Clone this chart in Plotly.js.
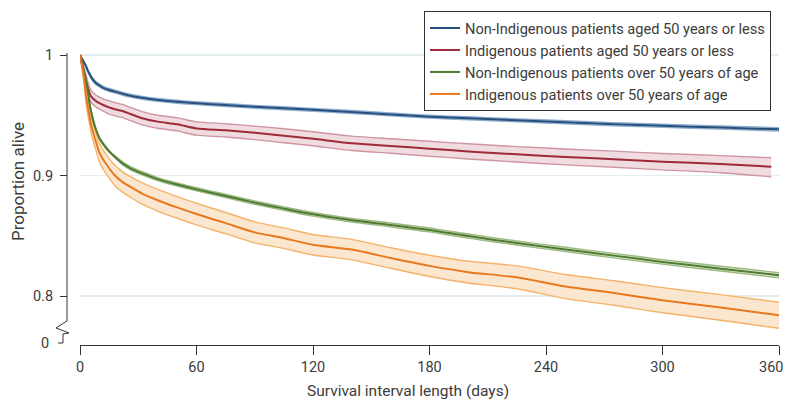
<!DOCTYPE html>
<html>
<head>
<meta charset="utf-8">
<script src="https://cdn.plot.ly/plotly-3.0.1.min.js"></script>
<style>html,body{margin:0;padding:0;background:#fff;}#chart{width:787px;height:402px;}</style>
</head>
<body>
<div id="chart"></div>
<script>
// ---- data ----
const days = [0,1,2,3,4,5,6,8,10,12,15,18,22,26,32,40,50,60,75,90,105,120,140,160,180,200,225,250,275,300,330,360];
const daysRed = [0,1,2,3,4,5,6,8,10,12,15,18,22,26,32,40,50,60,75,90,105,120,140,160,180,200,225,250,275,300,330,356];

const blue = [1.0,0.997,0.994,0.991,0.987,0.984,0.981,0.977,0.9747,0.9728,0.971,0.9696,0.9678,0.9662,0.9645,0.9627,0.9612,0.960,0.9585,0.957,0.9558,0.9545,0.9527,0.9507,0.9488,0.9475,0.9458,0.9442,0.9425,0.9412,0.9398,0.9383];
const blueUp = [1.0,0.9975,0.9948,0.992,0.9881,0.9852,0.9822,0.9782,0.9759,0.974,0.9722,0.9708,0.969,0.9674,0.9657,0.9639,0.9624,0.9612,0.9597,0.9582,0.957,0.9557,0.9539,0.9519,0.95,0.9487,0.947,0.9455,0.9438,0.9425,0.9411,0.9397];
const blueLo = [1.0,0.9965,0.9932,0.990,0.9859,0.9828,0.9798,0.9758,0.9735,0.9716,0.9698,0.9684,0.9666,0.965,0.9633,0.9615,0.96,0.9588,0.9573,0.9558,0.9546,0.9533,0.9515,0.9495,0.9476,0.9463,0.9446,0.9429,0.9412,0.9399,0.9385,0.9369];

const red = [1.0,0.993,0.986,0.979,0.973,0.968,0.965,0.962,0.960,0.9585,0.9565,0.955,0.9535,0.951,0.9475,0.9447,0.9425,0.939,0.9375,0.9355,0.933,0.9305,0.9267,0.9245,0.9222,0.920,0.9176,0.9154,0.9135,0.9115,0.9095,0.9073];
const redUp = [1.0,0.996,0.990,0.984,0.978,0.973,0.970,0.967,0.965,0.9635,0.962,0.9605,0.959,0.9565,0.953,0.950,0.948,0.9445,0.943,0.941,0.9388,0.9363,0.9327,0.9305,0.9284,0.9263,0.924,0.922,0.9202,0.9183,0.9165,0.9147];
const redLo = [1.0,0.990,0.982,0.974,0.968,0.963,0.960,0.957,0.955,0.9535,0.951,0.9495,0.948,0.9455,0.942,0.9392,0.937,0.9335,0.932,0.9298,0.9272,0.9247,0.9207,0.9185,0.916,0.9137,0.9112,0.9088,0.9068,0.9047,0.9023,0.899];

const green = [1.0,0.994,0.987,0.980,0.970,0.959,0.951,0.939,0.931,0.926,0.920,0.9155,0.910,0.906,0.9018,0.897,0.8925,0.8885,0.883,0.8775,0.8725,0.8678,0.8628,0.859,0.8548,0.8497,0.844,0.8386,0.8335,0.8283,0.8227,0.8172];
const greenUp = [1.0,0.9945,0.9878,0.9808,0.9708,0.9598,0.9518,0.9398,0.9318,0.9268,0.9208,0.9163,0.9113,0.9073,0.9031,0.8983,0.8938,0.8898,0.8844,0.8789,0.8739,0.8693,0.8643,0.8606,0.8564,0.8514,0.8457,0.8404,0.8354,0.8302,0.8247,0.8193];
const greenLo = [1.0,0.9935,0.9862,0.9792,0.9692,0.9582,0.9502,0.9382,0.9302,0.9252,0.9192,0.9147,0.9087,0.9047,0.9005,0.8957,0.8912,0.8872,0.8816,0.8761,0.8711,0.8663,0.8613,0.8574,0.8532,0.848,0.8423,0.8368,0.8316,0.8264,0.8207,0.8151];

const orange = [1.0,0.992,0.982,0.967,0.957,0.948,0.9405,0.929,0.919,0.913,0.906,0.900,0.8945,0.8905,0.885,0.8795,0.8735,0.868,0.8605,0.8528,0.848,0.8425,0.8385,0.8315,0.825,0.8198,0.8155,0.8078,0.8025,0.7965,0.7905,0.784];
const orangeUp = [1.0,0.995,0.986,0.972,0.963,0.954,0.9475,0.936,0.9265,0.921,0.914,0.9085,0.903,0.899,0.8938,0.8885,0.8825,0.877,0.8693,0.8615,0.8565,0.851,0.847,0.840,0.8338,0.8288,0.825,0.8178,0.8127,0.8069,0.8011,0.7948];
const orangeLo = [1.0,0.989,0.978,0.962,0.951,0.942,0.9335,0.922,0.9115,0.905,0.898,0.8915,0.886,0.882,0.8762,0.8705,0.8645,0.859,0.8517,0.8441,0.8395,0.834,0.830,0.823,0.8162,0.8108,0.806,0.7978,0.7923,0.7861,0.7799,0.7732];

const seriesNames = [
  "Non-Indigenous patients aged 50 years or less",
  "Indigenous patients aged 50 years or less",
  "Non-Indigenous patients over 50 years of age",
  "Indigenous patients over 50 years of age"
];
const xTicks = [0,60,120,180,240,300,360];
const xTickText = ["0","60","120","180","240","300",""];
const xLastLabel = "360";
const yTicks = [0.8,0.9,1];
const yTickText = ["0.8","0.9","1"];

// ---- styles ----
const styles = [
  {line:"#264f7c", edge:"#8eaccd", fill:"rgba(190,208,228,0.6)"},
  {line:"#9e2a38", edge:"#cf95a0", fill:"rgba(236,210,216,0.8)"},
  {line:"#4f7a2f", edge:"#9ab983", fill:"rgba(205,222,190,0.6)"},
  {line:"#e8781e", edge:"#f4b26a", fill:"rgba(251,228,202,0.9)"}
];
const sets = [
  {x:days, y:blue, up:blueUp, lo:blueLo},
  {x:daysRed, y:red, up:redUp, lo:redLo},
  {x:days, y:green, up:greenUp, lo:greenLo},
  {x:days, y:orange, up:orangeUp, lo:orangeLo}
];

const traces = [];
sets.forEach((s,i)=>{
  const st = styles[i];
  traces.push({x:s.x, y:s.up, type:"scatter", mode:"lines", line:{color:st.edge, width:1.4, shape:"spline", smoothing:0.7},
    showlegend:false, hoverinfo:"skip"});
  traces.push({x:s.x, y:s.lo, type:"scatter", mode:"lines", line:{color:st.edge, width:1.4, shape:"spline", smoothing:0.7},
    fill:"tonexty", fillcolor:st.fill, showlegend:false, hoverinfo:"skip"});
});
sets.forEach((s,i)=>{
  traces.push({x:s.x, y:s.y, type:"scatter", mode:"lines", name:seriesNames[i],
    line:{color:styles[i].line, width:2, shape:"spline", smoothing:0.7}});
});

// ---- layout geometry (pixels -> paper) ----
const W = 787, H = 402;
const mL = 60, mR = 8, mT = 10, mB = 57;
const pw = W - mL - mR, ph = H - mT - mB;
const px = X => (X - mL) / pw;
const py = Y => (H - mB - Y) / ph;

const axisPts = [[67,53],[67,321],[56,328],[69,333],[63,334],[63,343],[58,343]];
const axisPath = axisPts.map((p,k)=>(k?"L":"M")+px(p[0]).toFixed(5)+","+py(p[1]).toFixed(5)).join(" ");

const fontFam = "Roboto, 'Open Sans', sans-serif";
const txt = "#3c3c3c";

const layout = {
  width: W, height: H,
  margin:{l:mL, r:mR, t:mT, b:mB},
  paper_bgcolor:"#fff", plot_bgcolor:"#fff",
  font:{family:fontFam, size:14, color:txt},
  showlegend:true,
  legend:{x:px(424), y:py(11), xanchor:"left", yanchor:"top", traceorder:"normal",
    bgcolor:"#fff", bordercolor:"#333", borderwidth:1,
    font:{family:fontFam, size:14.6, color:txt}, tracegroupgap:0},
  xaxis:{domain:[px(80),px(779)], range:[0,360], anchor:"free", position:0,
    tickvals:xTicks, ticktext:xTickText, ticks:"outside", ticklen:9, tickcolor:"#333", tickwidth:1,
    showline:true, linecolor:"#333", linewidth:1, showgrid:false, zeroline:false,
    tickfont:{size:14.5, color:txt}},
  yaxis:{domain:[py(335), py(50)], range:[0.76763, 1.00415], anchor:"free", position:px(67),
    tickvals:yTicks, ticktext:yTickText, ticks:"outside", ticklen:7, tickcolor:"#333",
    ticklabelstandoff:4,
    showline:false, zeroline:false, showgrid:true, gridcolor:"#e5eeee", gridwidth:1.5,
    tickfont:{size:14.5, color:txt}},
  shapes:[{type:"path", xref:"paper", yref:"paper", path:axisPath,
    line:{color:"#333", width:1}}],
  annotations:[
    {xref:"paper", yref:"paper", x:px(51), y:py(343), xanchor:"right", yanchor:"middle",
      text:"0", showarrow:false, font:{size:14.5, color:txt}},
    {xref:"paper", yref:"paper", x:px(785), y:py(367), xanchor:"right", yanchor:"middle",
      text:xLastLabel, showarrow:false, font:{size:14.5, color:txt}},
    {xref:"paper", yref:"paper", x:px(18), y:py(182), xanchor:"center", yanchor:"middle",
      textangle:-90, text:"Proportion alive", showarrow:false, font:{size:17, color:txt}},
    {xref:"paper", yref:"paper", x:px(408), y:py(391), xanchor:"center", yanchor:"middle",
      text:"Survival interval length (days)", showarrow:false, font:{size:15.5, color:txt}}
  ]
};

Plotly.newPlot("chart", traces, layout, {displayModeBar:false, staticPlot:true});
</script>
</body>
</html>
